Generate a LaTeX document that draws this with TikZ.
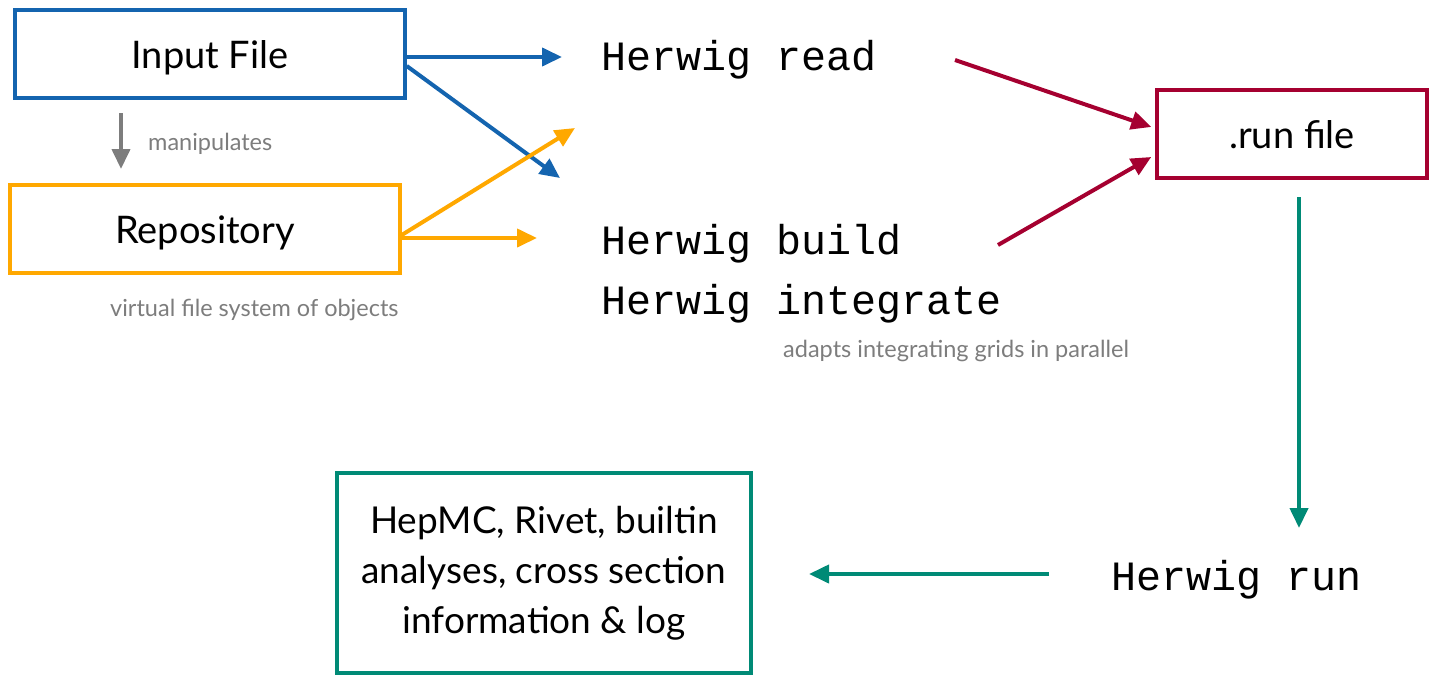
\documentclass[tikz,border=0pt]{standalone}
\usepackage{fontspec}
\setmainfont{Lato}
\setmonofont{Liberation Mono}
\usetikzlibrary{arrows.meta,calc}
\definecolor{cblue}{RGB}{20,100,175}
\definecolor{corange}{RGB}{255,168,0}
\definecolor{ccrim}{RGB}{165,0,48}
\definecolor{cteal}{RGB}{0,138,118}
\definecolor{cgray}{RGB}{125,125,125}
\newcommand{\boxtext}[1]{\raisebox{-14pt}[0pt][0pt]{#1}}
\tikzset{
  box/.style={draw,line width=3.5pt,inner sep=0pt,minimum height=88pt,font=\fontsize{38}{44}\selectfont},
  mono/.style={inner sep=0pt,anchor=base west,font=\ttfamily\fontsize{41.7}{48}\selectfont},
  note/.style={inner sep=0pt,text=cgray,font=\fontsize{23.5}{28}\selectfont},
  arr/.style={line width=4pt,-{Triangle[length=20pt,width=18pt]}},
}
\begin{document}
\begin{tikzpicture}[x=1pt,y=-1pt]
\useasboundingbox (0,0) rectangle (1432,675);
\node[box,draw=cblue,minimum width=390pt] (in) at (210,54) {\boxtext{Input File}};
\node[box,draw=corange,minimum width=390pt] (repo) at (205,229) {\boxtext{Repository}};
\node[box,draw=ccrim,minimum width=270pt] (run) at (1292,134) {\boxtext{.run file}};
\node[box,draw=cteal,minimum width=414pt,minimum height=200pt,align=center,font=\fontsize{37}{50}\selectfont] (out) at (544,573) {HepMC, Rivet, builtin\\analyses, cross section\\information \& log};
\node[mono] (hread) at (601,70) {Herwig read};
\node[mono] (hbuild) at (601,254) {Herwig build};
\node[mono] (hint) at (601,314) {Herwig integrate};
\node[mono] (hrun) at (1111,590) {Herwig run};
\node[note,anchor=base west] (manip) at (148,150) {manipulates};
\node[note,anchor=base west] (vfs) at (110,316) {virtual file system of objects};
\node[note,anchor=base west] (adapt) at (783,357) {adapts integrating grids in parallel};
\coordinate (b1) at (562,57);
\coordinate (b2) at (560,178);
\coordinate (o1) at (537,238);
\coordinate (o2) at (575,128);
\coordinate (g1) at (121,113);
\coordinate (g2) at (121,169);
\coordinate (r1) at (955,60);
\coordinate (r2) at (998,245);
\coordinate (t1) at (1299,197);
\coordinate (t2) at (1299,528);
\coordinate (t3) at (1049,574);
\coordinate (t4) at (809,574);
\draw[arr,cblue] (in.east |- b1) -- (b1);
\draw[arr,cblue] ($(in.east)+(0,12)$) -- (b2);
\draw[arr,corange] ($(repo.east)+(0,9)$) -- (o1);
\draw[arr,corange] ($(repo.east)+(0,6)$) -- (o2);
\draw[arr,cgray] (g1) -- (g2);
\draw[arr,ccrim] (r1) -- ($(run.west)+(-4,-7)$);
\draw[arr,ccrim] (r2) -- ($(run.west)+(-4,23)$);
\draw[arr,cteal] (t1) -- (t2);
\draw[arr,cteal] (t3) -- (t4);
\end{tikzpicture}
\end{document}
